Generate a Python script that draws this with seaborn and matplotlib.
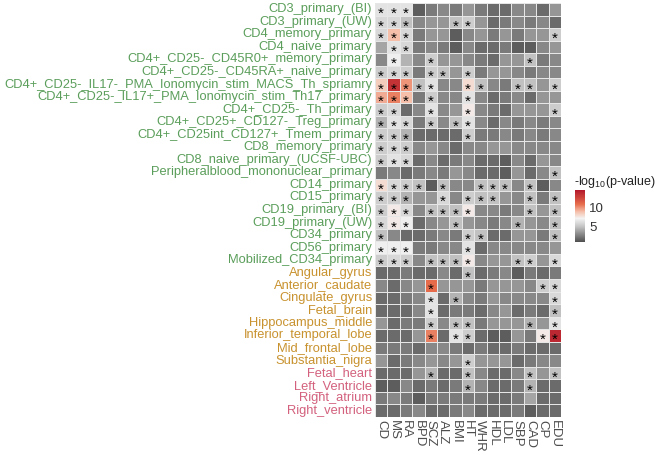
import numpy as np
import pandas as pd
import matplotlib
matplotlib.use("Agg")
import matplotlib.pyplot as plt
import seaborn as sns
from matplotlib.colors import LinearSegmentedColormap

traits = ["CD", "MS", "RA", "BPD", "SCZ", "ALZ", "BMI", "HT", "WHR",
          "HDL", "LDL", "SBP", "CAD", "CP", "EDU"]

tissues = [
    "CD3_primary_(BI)", "CD3_primary_(UW)", "CD4_memory_primary", "CD4_naive_primary",
    "CD4+_CD25-_CD45R0+_memory_primary", "CD4+_CD25-_CD45RA+_naive_primary",
    "CD4+_CD25-_IL17-_PMA_Ionomycin_stim_MACS_Th_spriamry",
    "CD4+_CD25-_IL17+_PMA_Ionomycin_stim_Th17_primary",
    "CD4+_CD25-_Th_primary", "CD4+_CD25+_CD127-_Treg_primary",
    "CD4+_CD25int_CD127+_Tmem_primary", "CD8_memory_primary",
    "CD8_naive_primary_(UCSF-UBC)", "Peripheralblood_mononuclear_primary",
    "CD14_primary", "CD15_primary", "CD19_primary_(BI)", "CD19_primary_(UW)",
    "CD34_primary", "CD56_primary", "Mobilized_CD34_primary",
    "Angular_gyrus", "Anterior_caudate", "Cingulate_gyrus", "Fetal_brain",
    "Hippocampus_middle", "Inferior_temporal_lobe", "Mid_frontal_lobe",
    "Substantia_nigra",
    "Fetal_heart", "Left_Ventricle", "Right_atrium", "Right_ventricle",
]

group_sizes = {"blood": 21, "brain": 8, "heart": 4}
group_colors = {"blood": "#5b9e5b", "brain": "#c8922e", "heart": "#d3617d"}

# -log10(p) per tissue, columns in the order of `traits`
neglog_p = [
    [6.5, 6.5, 6.5, 1.5, 2.5, 3.0, 2.5, 3.5, 2.5, 2.0, 2.0, 3.0, 3.0, 2.0, 3.5],
    [6.0, 6.0, 5.0, 3.0, 3.5, 3.5, 5.0, 5.5, 3.5, 2.0, 2.5, 3.0, 2.5, 3.0, 2.0],
    [6.0, 9.0, 6.0, 2.5, 3.5, 3.5, 1.5, 3.0, 3.5, 2.5, 3.5, 2.5, 3.5, 3.5, 5.5],
    [4.0, 6.5, 6.0, 2.5, 3.0, 2.5, 1.5, 3.0, 2.0, 2.0, 2.5, 1.5, 1.5, 3.0, 3.5],
    [3.0, 7.0, 4.5, 3.0, 5.5, 3.5, 3.5, 3.0, 2.5, 2.0, 3.5, 3.5, 5.0, 2.5, 3.0],
    [5.5, 6.0, 5.5, 2.5, 5.5, 5.0, 3.5, 5.5, 2.5, 3.5, 3.5, 3.0, 2.5, 3.0, 3.0],
    [8.5, 13.5, 10.0, 5.0, 6.5, 3.0, 3.0, 8.0, 5.0, 3.0, 2.5, 5.0, 5.0, 3.5, 5.5],
    [9.5, 10.5, 9.0, 2.5, 5.5, 3.0, 3.0, 6.5, 3.0, 2.0, 2.5, 3.0, 2.0, 3.5, 3.5],
    [5.5, 6.0, 2.0, 3.0, 6.5, 3.0, 3.5, 7.5, 3.0, 2.5, 2.0, 3.5, 3.5, 3.5, 5.5],
    [4.5, 6.5, 6.0, 2.5, 5.5, 3.0, 5.0, 6.5, 3.0, 2.0, 3.0, 2.5, 3.0, 2.5, 3.0],
    [5.5, 5.5, 4.5, 2.0, 2.0, 2.0, 2.0, 5.5, 2.5, 2.5, 3.0, 2.5, 3.0, 2.5, 3.0],
    [5.5, 6.0, 5.5, 3.0, 3.5, 3.0, 2.0, 3.0, 3.0, 3.5, 3.5, 3.0, 3.0, 3.0, 3.0],
    [5.5, 6.5, 6.0, 2.0, 3.0, 2.0, 2.5, 3.0, 2.0, 2.0, 1.5, 3.0, 2.0, 3.5, 3.0],
    [2.5, 3.0, 2.0, 2.5, 3.0, 2.5, 3.5, 3.0, 2.0, 2.0, 1.5, 3.5, 2.0, 3.0, 5.0],
    [8.0, 6.0, 5.5, 5.0, 1.5, 5.0, 3.0, 3.0, 5.0, 5.0, 5.0, 3.0, 5.0, 1.5, 3.0],
    [5.5, 5.5, 4.5, 3.5, 3.5, 6.0, 3.0, 5.5, 5.0, 5.0, 3.5, 3.0, 5.0, 2.5, 5.0],
    [5.5, 7.5, 6.0, 3.0, 5.0, 5.0, 5.0, 7.5, 3.0, 3.0, 2.5, 3.0, 5.0, 3.5, 5.0],
    [6.0, 7.5, 7.0, 2.0, 3.0, 3.5, 5.0, 3.5, 3.0, 2.5, 3.0, 4.5, 3.5, 3.0, 5.0],
    [5.0, 3.0, 2.0, 2.0, 2.5, 3.0, 2.5, 5.5, 5.0, 2.0, 2.0, 3.5, 3.5, 2.5, 5.0],
    [7.0, 7.0, 7.0, 2.5, 2.5, 3.0, 3.0, 6.5, 2.0, 3.0, 3.0, 3.0, 3.0, 3.0, 3.5],
    [5.5, 6.0, 5.5, 3.0, 5.0, 5.0, 5.0, 7.5, 3.0, 3.5, 3.5, 5.0, 5.5, 3.5, 6.0],
    [2.0, 2.0, 2.5, 2.0, 2.0, 3.0, 2.0, 5.0, 2.0, 2.5, 3.0, 1.5, 2.5, 2.0, 2.5],
    [3.0, 2.0, 3.0, 3.5, 11.0, 3.5, 3.5, 3.5, 2.5, 3.5, 3.5, 3.5, 3.0, 5.5, 6.0],
    [2.0, 2.0, 2.5, 3.0, 6.5, 2.0, 4.5, 3.0, 2.5, 3.5, 3.0, 3.0, 3.0, 3.0, 6.0],
    [2.0, 2.0, 2.0, 3.0, 6.5, 2.0, 2.5, 2.5, 2.0, 3.0, 3.5, 2.0, 2.5, 2.0, 5.0],
    [3.5, 2.0, 2.5, 2.5, 5.5, 3.0, 5.0, 5.0, 2.5, 3.5, 3.5, 3.5, 4.5, 3.5, 6.5],
    [2.0, 2.0, 2.0, 3.5, 10.5, 2.0, 6.5, 5.5, 2.0, 1.5, 1.5, 3.5, 2.5, 7.5, 14.0],
    [2.5, 2.5, 2.5, 2.0, 3.0, 3.0, 2.5, 2.0, 2.5, 2.0, 2.0, 2.5, 2.0, 2.0, 2.0],
    [3.5, 2.0, 2.5, 3.0, 3.5, 3.0, 3.5, 5.5, 3.5, 3.5, 3.5, 2.0, 2.5, 3.0, 3.0],
    [2.0, 2.0, 2.0, 3.5, 4.5, 2.0, 2.0, 5.0, 3.0, 2.0, 2.0, 3.0, 5.0, 3.5, 5.0],
    [1.5, 1.5, 3.0, 2.0, 2.5, 2.0, 2.5, 4.5, 3.0, 2.0, 2.0, 2.5, 4.5, 2.0, 2.0],
    [2.5, 3.0, 2.5, 1.5, 2.5, 2.5, 2.5, 2.5, 2.5, 2.0, 2.0, 2.5, 4.0, 2.0, 2.0],
    [2.0, 2.0, 2.5, 3.0, 2.0, 2.0, 2.5, 3.0, 2.0, 2.0, 2.0, 2.5, 1.5, 2.0, 2.0],
]

# traits marked with a star in each row
starred = [
    "CD MS RA", "CD MS RA BMI HT", "CD MS RA EDU", "MS RA", "MS SCZ CAD",
    "CD MS RA SCZ ALZ HT", "CD MS RA BPD SCZ HT WHR SBP CAD EDU",
    "CD MS RA SCZ HT", "CD MS SCZ HT EDU", "CD MS RA SCZ BMI HT", "CD MS RA HT",
    "CD MS RA", "CD MS RA", "EDU", "CD MS RA BPD ALZ WHR HDL LDL CAD",
    "CD MS RA ALZ HT WHR HDL CAD EDU", "CD MS RA SCZ ALZ BMI HT CAD EDU",
    "CD MS RA BMI SBP EDU", "CD HT WHR EDU", "CD MS RA HT",
    "CD MS RA SCZ ALZ BMI HT SBP CAD EDU",
    "HT", "SCZ CP EDU", "SCZ BMI EDU", "SCZ EDU", "SCZ BMI HT CAD EDU",
    "SCZ BMI HT CP EDU", "", "HT", "SCZ HT CAD EDU", "HT CAD", "", "",
]

df = pd.DataFrame(neglog_p, index=tissues, columns=traits)

sns.set_theme(style="white")
plt.rcParams["font.family"] = ["Liberation Sans", "DejaVu Sans"]
plt.rcParams["mathtext.fontset"] = "custom"
plt.rcParams["mathtext.rm"] = "Liberation Sans"

vmin, vmax = 1.0, 14.7
anchors = [(1.0, "#4f4f4f"), (5.0, "#c2c2c2"), (7.2, "#f3f3f3"),
           (9.0, "#f5bfaa"), (11.0, "#e66b4b"), (14.7, "#b2182b")]
cmap = LinearSegmentedColormap.from_list(
    "grey_red", [((v - vmin) / (vmax - vmin), c) for v, c in anchors])

fig = plt.figure(figsize=(6.55, 4.55), dpi=100)
ax = fig.add_axes([375 / 655, 1 - 417 / 455, 186 / 655, 414 / 455])
cax = fig.add_axes([575 / 655, 1 - 242 / 455, 10 / 655, 52 / 455])

sns.heatmap(df, cmap=cmap, vmin=vmin, vmax=vmax,
            linewidths=0.5, linecolor="#e6e6e6", cbar_ax=cax, ax=ax)

# stars: the asterisk glyph sits high, so put the baseline below the cell centre
for i, s in enumerate(starred):
    for t in s.split():
        ax.text(traits.index(t) + 0.5, i + 1.2, "*", ha="center", va="baseline",
                fontsize=11, color="black")

ax.tick_params(length=0, pad=2)
ax.set_xlabel("")
ax.set_ylabel("")
ax.set_yticks(np.arange(len(tissues)) + 0.5)
ax.set_yticklabels(tissues, fontsize=9.3)
row_colors = [group_colors[g] for g, n in group_sizes.items() for _ in range(n)]
for lab, col in zip(ax.get_yticklabels(), row_colors):
    lab.set_color(col)
ax.set_xticks(np.arange(len(traits)) + 0.5)
ax.set_xticklabels(traits, rotation=270, fontsize=9.5, color="#4d4d4d",
                   va="top", ha="center")

cbar = ax.collections[0].colorbar
cbar.set_ticks([5, 10])
cbar.outline.set_visible(False)
cax.tick_params(length=0, labelsize=9.5, pad=3, colors="#333333")
fig.text(574 / 655, 1 - 182 / 455, r"-log$_{10}$(p-value)", fontsize=9,
         ha="left", va="center", color="#222222")

fig.savefig("out.png", dpi=100)
